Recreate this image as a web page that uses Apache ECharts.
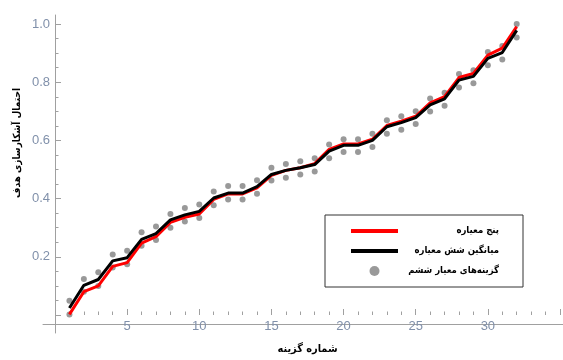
<!DOCTYPE html>
<html>
<head>
<meta charset="utf-8">
<script src="https://cdn.jsdelivr.net/npm/echarts@6/dist/echarts.min.js"></script>
<style>html,body{margin:0;padding:0;background:#fff}#c{width:563px;height:360px}</style>
</head>
<body>
<div id="c"></div>
<script>
const xs = [1,2,3,4,5,6,7,8,9,10,11,12,13,14,15,16,17,18,19,20,21,22,23,24,25,26,27,28,29,30,31,32];
const fiveCriteria = [0.002,0.080,0.100,0.167,0.180,0.247,0.269,0.318,0.336,0.347,0.397,0.416,0.416,0.437,0.480,0.497,0.506,0.520,0.569,0.588,0.588,0.604,0.651,0.666,0.683,0.729,0.750,0.816,0.830,0.893,0.917,0.991];
const sixMean = [0.024,0.102,0.122,0.186,0.197,0.260,0.280,0.327,0.344,0.356,0.402,0.419,0.419,0.441,0.483,0.497,0.506,0.517,0.563,0.583,0.583,0.600,0.647,0.661,0.678,0.722,0.743,0.807,0.820,0.882,0.902,0.978];
const dotsUpper = [0.049,0.124,0.147,0.208,0.221,0.284,0.304,0.347,0.368,0.380,0.424,0.443,0.443,0.463,0.506,0.519,0.528,0.539,0.586,0.604,0.604,0.623,0.669,0.683,0.700,0.744,0.764,0.828,0.841,0.904,0.924,1.000];
const dotsLower = [0.002,0.080,0.100,0.163,0.174,0.238,0.258,0.300,0.321,0.333,0.377,0.397,0.397,0.417,0.462,0.472,0.483,0.493,0.539,0.560,0.560,0.577,0.623,0.637,0.656,0.699,0.719,0.782,0.796,0.858,0.878,0.954];
const names = ['پنج معیاره', 'میانگین شش معیاره', 'گزینه‌های معیار ششم'];
const xName = 'شماره گزینه';
const yName = 'احتمال آشکارسازی هدف';

const axisGray = '#a0a0a0';
const labelColor = '#8090aa';
const fa = 'DejaVu Sans Condensed';

// font size that makes a text reach a given width
const mctx = document.createElement('canvas').getContext('2d');
function fitSize(text, target) {
  mctx.font = 'bold 100px "' + fa + '", "DejaVu Sans"';
  return Math.round(100 * target / mctx.measureText(text).width * 10) / 10;
}
const legendSize = fitSize(names[2], 91);
const xNameSize = fitSize(xName, 60);
const yNameSize = fitSize(yName, 110);

const scatterData = [];
xs.forEach((x, i) => { scatterData.push([x, dotsUpper[i]]); scatterData.push([x, dotsLower[i]]); });

const lineIcon = 'path://M0,0H47V4H0Z';
const famCss = '"' + fa + '", "DejaVu Sans"';

const chart = echarts.init(document.getElementById('c'), null, {renderer: 'canvas'});
chart.setOption({
  animation: false,
  backgroundColor: '#fff',
  grid: [
    {left: 43, right: 0, top: 15, bottom: 27},
    {left: 55, right: -38, top: 24, bottom: 36}
  ],
  xAxis: [
    {gridIndex: 0, type: 'value', min: -0.77, max: 32.56,
     axisLine: {show: true, onZero: true, lineStyle: {color: axisGray, width: 1}},
     axisTick: {show: false}, axisLabel: {show: false}, splitLine: {show: false}},
    {gridIndex: 1, type: 'value', min: 0, max: 35, interval: 5,
     axisLine: {show: false},
     axisTick: {show: true, inside: true, length: 6, lineStyle: {color: axisGray}},
     minorTick: {show: true, splitNumber: 5, length: 3.5, lineStyle: {color: axisGray}},
     axisLabel: {color: labelColor, fontSize: 13, fontFamily: 'Liberation Sans', margin: 5,
       formatter: v => (v <= 0 || v > 32) ? '' : String(v)},
     splitLine: {show: false},
     name: xName, nameLocation: 'middle', nameGap: 29,
     nameTextStyle: {color: '#000', fontSize: xNameSize, fontWeight: 'bold', fontFamily: famCss}}
  ],
  yAxis: [
    {gridIndex: 0, type: 'value', min: -0.03, max: 1.03,
     axisLine: {show: true, onZero: true, lineStyle: {color: axisGray, width: 1}},
     axisTick: {show: false}, axisLabel: {show: false}, splitLine: {show: false}},
    {gridIndex: 1, type: 'value', min: 0, max: 1, interval: 0.2,
     axisLine: {show: false},
     axisTick: {show: true, inside: true, length: 6, lineStyle: {color: axisGray}},
     minorTick: {show: true, splitNumber: 4, length: 3.5, lineStyle: {color: axisGray}},
     axisLabel: {color: labelColor, fontSize: 13, fontFamily: 'Liberation Sans', margin: 5,
       formatter: v => v <= 0 ? '' : v.toFixed(1)},
     splitLine: {show: false}}
  ],
  legend: {
    left: 325, top: 215, orient: 'vertical',
    padding: [11, 24, 11, 26],
    itemGap: 10, itemWidth: 47, itemHeight: 10,
    borderColor: '#333', borderWidth: 1,
    selectedMode: false,
    data: [
      {name: names[0], icon: lineIcon},
      {name: names[1], icon: lineIcon},
      {name: names[2], icon: 'circle'}
    ],
    formatter: n => '{t|' + n + '}',
    textStyle: {
      rich: {t: {width: 96, align: 'right', color: '#000', fontSize: legendSize, fontWeight: 'bold', fontFamily: famCss}}
    }
  },
  graphic: [
    {type: 'text', x: 17, y: 143, rotation: Math.PI / 2,
     style: {text: yName, fill: '#000', font: 'bold ' + yNameSize + 'px ' + famCss, align: 'center', verticalAlign: 'middle'}}
  ],
  series: [
    {name: names[2], type: 'scatter', xAxisIndex: 1, yAxisIndex: 1, data: scatterData,
     symbol: 'circle', symbolSize: 6, itemStyle: {color: '#808080'}, z: 2},
    {name: names[0], type: 'line', xAxisIndex: 1, yAxisIndex: 1,
     data: xs.map((x, i) => [x, fiveCriteria[i]]),
     symbol: 'none', lineStyle: {color: '#ff0000', width: 3}, itemStyle: {color: '#ff0000'}, z: 3},
    {name: names[1], type: 'line', xAxisIndex: 1, yAxisIndex: 1,
     data: xs.map((x, i) => [x, sixMean[i]]),
     symbol: 'none', lineStyle: {color: '#000000', width: 3}, itemStyle: {color: '#000000'}, z: 4}
  ]
});
</script>
</body>
</html>
